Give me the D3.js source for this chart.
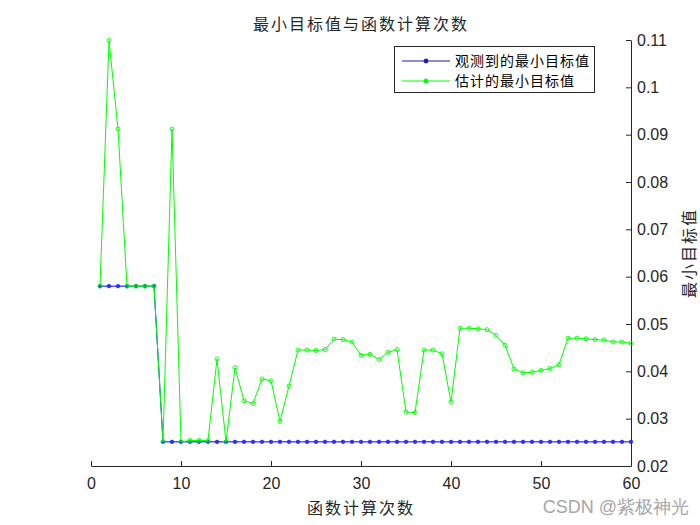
<!DOCTYPE html>
<html>
<head>
<meta charset="utf-8">
<script src="https://cdn.jsdelivr.net/npm/d3@7/dist/d3.min.js"></script>
<style>
  body { margin: 0; background: #fff; }
  svg { display: block; }
</style>
</head>
<body>
<svg id="chart"></svg>
<script>
// data
var evals = [1,2,3,4,5,6,7,8,9,10,11,12,13,14,15,16,17,18,19,20,
             21,22,23,24,25,26,27,28,29,30,31,32,33,34,35,36,37,38,39,40,
             41,42,43,44,45,46,47,48,49,50,51,52,53,54,55,56,57,58,59,60];
var observedMin = [0.0580,0.0580,0.0580,0.0580,0.0580,0.0580,0.0580,0.0251,0.0251,0.0251,
                   0.0251,0.0251,0.0251,0.0251,0.0251,0.0251,0.0251,0.0251,0.0251,0.0251,
                   0.0251,0.0251,0.0251,0.0251,0.0251,0.0251,0.0251,0.0251,0.0251,0.0251,
                   0.0251,0.0251,0.0251,0.0251,0.0251,0.0251,0.0251,0.0251,0.0251,0.0251,
                   0.0251,0.0251,0.0251,0.0251,0.0251,0.0251,0.0251,0.0251,0.0251,0.0251,
                   0.0251,0.0251,0.0251,0.0251,0.0251,0.0251,0.0251,0.0251,0.0251,0.0251];
var estimatedMin = [0.0580,0.1099,0.0912,0.0580,0.0580,0.0580,0.0580,0.0251,0.0912,0.0251,
                    0.0254,0.0254,0.0254,0.0426,0.0251,0.0408,0.0338,0.0332,0.0384,0.0380,
                    0.0294,0.0369,0.0445,0.0445,0.0444,0.0446,0.0468,0.0467,0.0462,0.0434,
                    0.0436,0.0425,0.0440,0.0446,0.0314,0.0313,0.0445,0.0445,0.0437,0.0335,
                    0.0491,0.0491,0.0490,0.0488,0.0476,0.0455,0.0405,0.0397,0.0398,0.0402,
                    0.0406,0.0414,0.0470,0.0470,0.0469,0.0467,0.0466,0.0462,0.0462,0.0459];
var xTicks = [0,10,20,30,40,50,60];
var yTicks = [0.02,0.03,0.04,0.05,0.06,0.07,0.08,0.09,0.1,0.11];
var seriesNames = ['观测到的最小目标值','估计的最小目标值'];

var width = 700, height = 525;
var plotLeft = 91, plotRight = 631, plotTop = 40, plotBottom = 466;
var axisColor = '#262626';
var cjk = '"Noto Sans CJK SC", sans-serif';
var latin = '"Liberation Sans", Arial, sans-serif';
var blue = '#0000ff', green = '#00ff00';

var svg = d3.select('#chart')
    .attr('width', width)
    .attr('height', height);

var x = d3.scaleLinear().domain([0, 60]).range([plotLeft, plotRight]);
var y = d3.scaleLinear().domain([0.02, 0.11]).range([plotBottom, plotTop]);

// x axis at the bottom, ticks pointing inward
var xAxis = svg.append('g')
    .attr('transform', 'translate(0,' + plotBottom + ')')
    .call(d3.axisBottom(x).tickValues(xTicks).tickSize(-5).tickSizeOuter(0)
        .tickFormat(d3.format('d')));
xAxis.select('.domain').attr('stroke', axisColor);
xAxis.selectAll('.tick line').attr('stroke', axisColor);
xAxis.selectAll('.tick text')
    .attr('fill', axisColor)
    .attr('font-family', latin)
    .attr('font-size', '16px')
    .attr('y', 12);

// y axis on the right side
var yAxis = svg.append('g')
    .attr('transform', 'translate(' + plotRight + ',0)')
    .call(d3.axisRight(y).tickValues(yTicks).tickSize(-5).tickSizeOuter(0)
        .tickFormat(function(d){ return String(+d.toFixed(2)); }));
yAxis.select('.domain').attr('stroke', axisColor);
yAxis.selectAll('.tick line').attr('stroke', axisColor);
yAxis.selectAll('.tick text')
    .attr('fill', axisColor)
    .attr('font-family', latin)
    .attr('font-size', '16px')
    .attr('x', 6);

var line = d3.line()
    .x(function(d){ return x(d[0]); })
    .y(function(d){ return y(d[1]); });

var obsPts = evals.map(function(e, i){ return [e, observedMin[i]]; });
var estPts = evals.map(function(e, i){ return [e, estimatedMin[i]]; });

svg.append('path')
    .datum(obsPts)
    .attr('d', line)
    .attr('fill', 'none')
    .attr('stroke', blue)
    .attr('stroke-width', 1);
svg.append('g').selectAll('circle')
    .data(obsPts)
    .enter().append('circle')
    .attr('cx', function(d){ return x(d[0]); })
    .attr('cy', function(d){ return y(d[1]); })
    .attr('r', 1.8)
    .attr('fill', '#3030ff')
    .attr('stroke', blue)
    .attr('stroke-width', 0.5);

svg.append('path')
    .datum(estPts)
    .attr('d', line)
    .attr('fill', 'none')
    .attr('stroke', green)
    .attr('stroke-width', 1);
svg.append('g').selectAll('circle')
    .data(estPts)
    .enter().append('circle')
    .attr('cx', function(d){ return x(d[0]); })
    .attr('cy', function(d){ return y(d[1]); })
    .attr('r', 2)
    .attr('fill', 'none')
    .attr('stroke', green)
    .attr('stroke-width', 0.9);

// title and labels
svg.append('text')
    .attr('x', (plotLeft + plotRight) / 2)
    .attr('y', 24)
    .attr('dy', '0.35em')
    .attr('text-anchor', 'middle')
    .attr('font-family', cjk)
    .attr('font-size', '16px')
    .attr('letter-spacing', '2px')
    .attr('fill', axisColor)
    .text('最小目标值与函数计算次数');

svg.append('text')
    .attr('x', (plotLeft + plotRight) / 2)
    .attr('y', 508)
    .attr('dy', '0.35em')
    .attr('text-anchor', 'middle')
    .attr('font-family', cjk)
    .attr('font-size', '16px')
    .attr('letter-spacing', '2px')
    .attr('fill', axisColor)
    .text('函数计算次数');

svg.append('text')
    .attr('transform', 'translate(689,' + ((plotTop + plotBottom) / 2) + ') rotate(-90)')
    .attr('dy', '0.35em')
    .attr('text-anchor', 'middle')
    .attr('font-family', cjk)
    .attr('font-size', '16px')
    .attr('letter-spacing', '2px')
    .attr('fill', axisColor)
    .text('最小目标值');

// legend
var legend = svg.append('g');
legend.append('rect')
    .attr('x', 394.5)
    .attr('y', 46.5)
    .attr('width', 200)
    .attr('height', 46)
    .attr('fill', '#fff')
    .attr('stroke', axisColor)
    .attr('stroke-width', 1);
var legendColors = ['#1a1ab0', green];
seriesNames.forEach(function(name, i){
    var ly = 61 + i * 20;
    legend.append('line')
        .attr('x1', 402).attr('x2', 450)
        .attr('y1', ly).attr('y2', ly)
        .attr('stroke', legendColors[i])
        .attr('stroke-width', 1);
    legend.append('circle')
        .attr('cx', 426).attr('cy', ly)
        .attr('r', 2)
        .attr('fill', legendColors[i])
        .attr('stroke', legendColors[i]);
    legend.append('text')
        .attr('x', 455)
        .attr('y', ly)
        .attr('dy', '0.35em')
        .attr('font-family', cjk)
        .attr('font-size', '14px')
        .attr('letter-spacing', '1px')
        .attr('fill', '#000')
        .text(name);
});

// watermark
svg.append('text')
    .attr('x', 689)
    .attr('y', 507)
    .attr('dy', '0.35em')
    .attr('text-anchor', 'end')
    .attr('font-family', latin)
    .attr('font-size', '18px')
    .attr('fill', '#a6a6a6')
    .text('CSDN @紫极神光');
</script>
</body>
</html>
